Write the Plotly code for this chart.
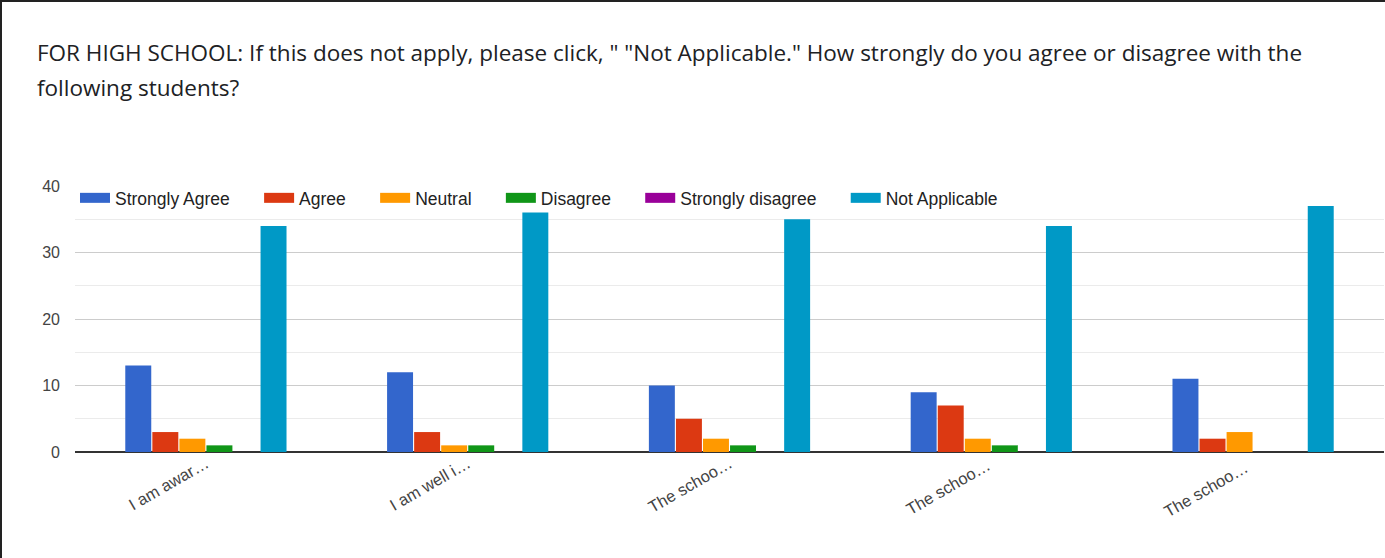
import plotly.graph_objects as go

# survey answers per statement
categories = ["I am awar…", "I am well i…", "The schoo…", "The schoo… ", "The schoo…  "]
series_names = ["Strongly Agree", "Agree", "Neutral", "Disagree",
                "Strongly disagree", "Not Applicable"]
strongly_agree = [13, 12, 10, 9, 11]
agree = [3, 3, 5, 7, 2]
neutral = [2, 1, 2, 2, 3]
disagree = [1, 1, 1, 1, 0]
strongly_disagree = [0, 0, 0, 0, 0]
not_applicable = [34, 36, 35, 34, 37]
y_ticks = [0, 10, 20, 30, 40]

colors = ["#3366cc", "#dc3912", "#ff9900", "#109618", "#990099", "#0099c6"]
values = [strongly_agree, agree, neutral, disagree, strongly_disagree, not_applicable]

title_lines = [
    'FOR HIGH SCHOOL: If this does not apply, please click, " "Not Applicable." '
    'How strongly do you agree or disagree with the',
    "following students?",
]

W, H = 1385, 558
ml, mr, mt, mb = 75, 1, 186, 106
pad = "\u00a0" * 5  # extra room between legend entries

fig = go.Figure()
for name, vals, col in zip(series_names, values, colors):
    fig.add_trace(go.Bar(
        x=categories, y=vals, name=name, marker=dict(color=col, line=dict(width=0)),
        legendgroup=name, showlegend=False,
    ))
    # wide legend swatch, like Google Charts
    fig.add_trace(go.Scatter(
        x=[categories[0]], y=[None], mode="lines", name=name + pad, legendgroup=name,
        line=dict(color=col, width=14), hoverinfo="skip",
    ))

pw, ph = W - ml - mr, H - mt - mb

fig.update_layout(
    width=W, height=H,
    margin=dict(l=ml, r=mr, t=mt, b=mb),
    paper_bgcolor="white", plot_bgcolor="white",
    barmode="group", bargap=0.38, bargroupgap=0.04,
    font=dict(family="Liberation Sans, Arial, sans-serif", color="#444"),
    legend=dict(
        orientation="h", x=0, xanchor="left", y=0.955, yanchor="middle",
        font=dict(size=17.5, color="#222"), bgcolor="rgba(0,0,0,0)",
        itemwidth=30,
    ),
    xaxis=dict(
        type="category", tickangle=-30, tickfont=dict(size=16.5, color="#444"),
        showgrid=False, showline=False, ticks="",
        ticklabelshift=0, ticklabelstandoff=-2,
    ),
    yaxis=dict(
        range=[0, 40], tickvals=y_ticks, tickfont=dict(size=16, color="#444"),
        gridcolor="#cccccc", gridwidth=1, zeroline=True, zerolinecolor="#333333",
        zerolinewidth=1.5, ticklabelstandoff=14,
        minor=dict(dtick=5, showgrid=True, gridcolor="#ebebeb", gridwidth=1),
    ),
)

for i, line in enumerate(title_lines):
    fig.add_annotation(
        text=line, xref="paper", yref="paper", showarrow=False,
        x=(35 - ml) / pw, y=(H - mb - (52 + 36 * i)) / ph,
        xanchor="left", yanchor="middle",
        font=dict(family="Open Sans, sans-serif", size=22.5, color="#202124"),
    )

# dark screenshot frame on top and left
fig.add_shape(type="rect", xref="paper", yref="paper", line_width=0,
              fillcolor="#222222", x0=-ml / pw, x1=(2 - ml) / pw,
              y0=-mb / ph, y1=(H - mb) / ph)
fig.add_shape(type="rect", xref="paper", yref="paper", line_width=0,
              fillcolor="#222222", x0=-ml / pw, x1=(W - ml) / pw,
              y0=(H - mb - 2) / ph, y1=(H - mb) / ph)

fig.write_html(
    "out.html",
    config={"displayModeBar": False},
    post_script="document.body.style.margin='0';document.body.style.overflow='hidden';",
)
